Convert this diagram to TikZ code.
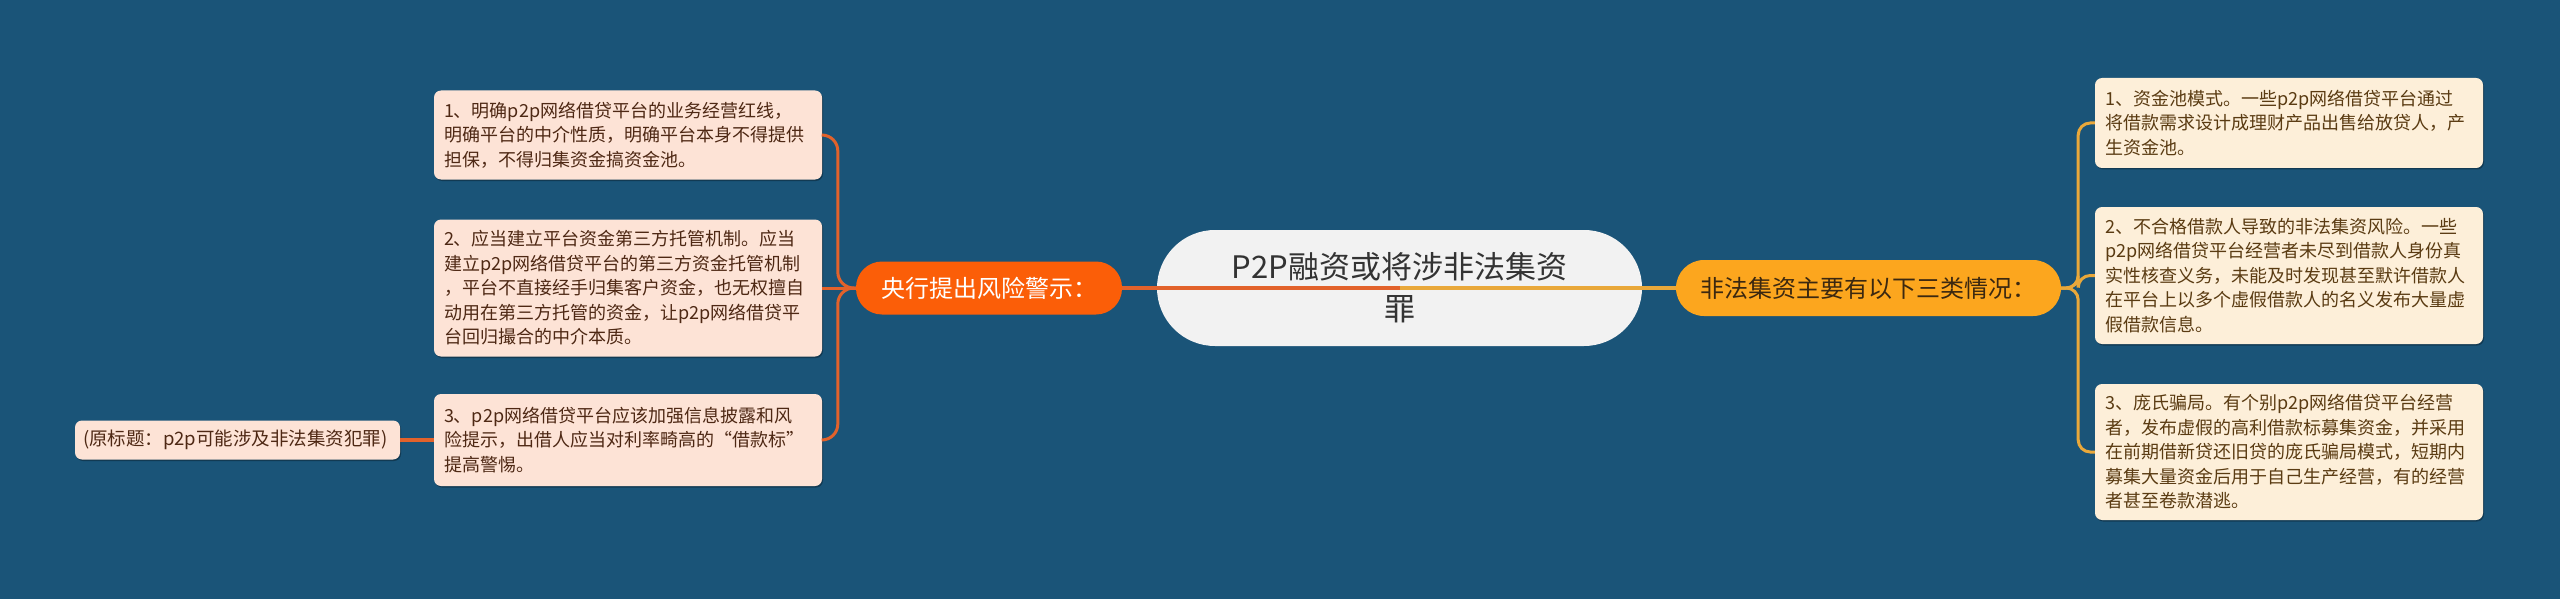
\documentclass[tikz,border=0pt]{standalone}
\usepackage{fontspec}
\setmainfont{Noto Sans CJK SC}
\usetikzlibrary{shadows}
\definecolor{bg}{HTML}{1A5478}
\definecolor{lconncol}{HTML}{E2622B}
\definecolor{rconncol}{HTML}{E9A83A}
\definecolor{yfill}{HTML}{FB5E08}
\definecolor{ffill}{HTML}{FCA61E}
\definecolor{ftext}{HTML}{3B2810}
\definecolor{lleaf}{HTML}{FDE3D6}
\definecolor{rleaf}{HTML}{FDEFD9}
\definecolor{ltext}{HTML}{4E2814}
\definecolor{rtext}{HTML}{5A3B12}
\definecolor{cfill}{HTML}{F2F2F2}
\definecolor{ctext}{HTML}{333333}
\begin{document}
\begin{tikzpicture}[x=1pt,y=-1pt,
  leafbox/.style={rounded corners=7pt, text width=368pt, inner xsep=10pt, inner ysep=0pt, align=left,
    font=\fontsize{18pt}{24.5pt}\selectfont,
    drop shadow={shadow xshift=1pt,shadow yshift=-1.5pt,opacity=0.3,fill=black}},
  lleafbox/.style={leafbox, fill=lleaf, text=ltext},
  rleafbox/.style={leafbox, fill=rleaf, text=rtext},
  cnode/.style={fill=cfill, text=ctext, rounded corners=58pt, minimum width=485pt, minimum height=116pt,
    align=center, font=\fontsize{31pt}{42pt}\selectfont},
  ynode/.style={fill=yfill, text=white, rounded corners=26pt, minimum width=266pt, minimum height=53pt,
    font=\fontsize{24pt}{28pt}\selectfont},
  fnode/.style={fill=ffill, text=ftext, rounded corners=28pt, minimum width=385pt, minimum height=56pt,
    font=\fontsize{24pt}{28pt}\selectfont},
  lconn/.style={draw=lconncol, line width=3pt, rounded corners=16pt},
  rconn/.style={draw=rconncol, line width=3pt, rounded corners=12pt},
  oconn/.style={draw=lconncol, line width=4.5pt},
  mainl/.style={draw=lconncol, line width=3.5pt},
  mainr/.style={draw=rconncol, line width=3.5pt}
]
\fill[bg] (0,0) rectangle (2560,599);
\useasboundingbox (0,0) rectangle (2560,599);

% center
\node[cnode] (C) at (1399.5,288) {P2P融资或将涉非法集资\\罪};
\node[ynode] (Y) at (989,288) {央行提出风险警示：};
\node[fnode] (F) at (1868.5,288) {非法集资主要有以下三类情况：};
\draw[mainl] (C.center) -- (Y.east);
\draw[mainr] (C.center) -- (F.west);

% left leaves
\node[lleafbox, minimum height=89pt] (L1) at (628,135) {1、明确p2p网络借贷平台的业务经营红线，\\明确平台的中介性质，明确平台本身不得提供\\担保，不得归集资金搞资金池。};
\node[lleafbox, minimum height=137pt] (L2) at (628,288) {2、应当建立平台资金第三方托管机制。应当\\建立p2p网络借贷平台的第三方资金托管机制\\，平台不直接经手归集客户资金，也无权擅自\\动用在第三方托管的资金，让p2p网络借贷平\\台回归撮合的中介本质。};
\node[lleafbox, minimum height=92pt] (L3) at (628,440) {3、p2p网络借贷平台应该加强信息披露和风\\险提示，出借人应当对利率畸高的“借款标”\\提高警惕。};
\node[lleafbox, text width=309pt, inner xsep=8pt, minimum height=39pt, font=\fontsize{18.5pt}{21pt}\selectfont] (O) at (237.5,440) {(原标题：p2p可能涉及非法集资犯罪)};

\draw[lconn] (Y.west) -- ++(-18,0) |- (L1.east);
\draw[lconn] (Y.west) -- (L2.east);
\draw[lconn] (Y.west) -- ++(-18,0) |- (L3.east);
\draw[oconn] (O.east) -- (L3.west);

% right leaves
\node[rleafbox, minimum height=90pt] (R1) at (2289,123) {1、资金池模式。一些p2p网络借贷平台通过\\将借款需求设计成理财产品出售给放贷人，产\\生资金池。};
\node[rleafbox, minimum height=137pt] (R2) at (2289,275.5) {2、不合格借款人导致的非法集资风险。一些\\p2p网络借贷平台经营者未尽到借款人身份真\\实性核查义务，未能及时发现甚至默许借款人\\在平台上以多个虚假借款人的名义发布大量虚\\假借款信息。};
\node[rleafbox, minimum height=136pt] (R3) at (2289,452) {3、庞氏骗局。有个别p2p网络借贷平台经营\\者，发布虚假的高利借款标募集资金，并采用\\在前期借新贷还旧贷的庞氏骗局模式，短期内\\募集大量资金后用于自己生产经营，有的经营\\者甚至卷款潜逃。};

\draw[rconn] (F.east) -- ++(17,0) |- (R1.west);
\draw[rconn] (F.east) -- ++(17,0) |- (R2.west);
\draw[rconn] (F.east) -- ++(17,0) |- (R3.west);
\end{tikzpicture}
\end{document}
